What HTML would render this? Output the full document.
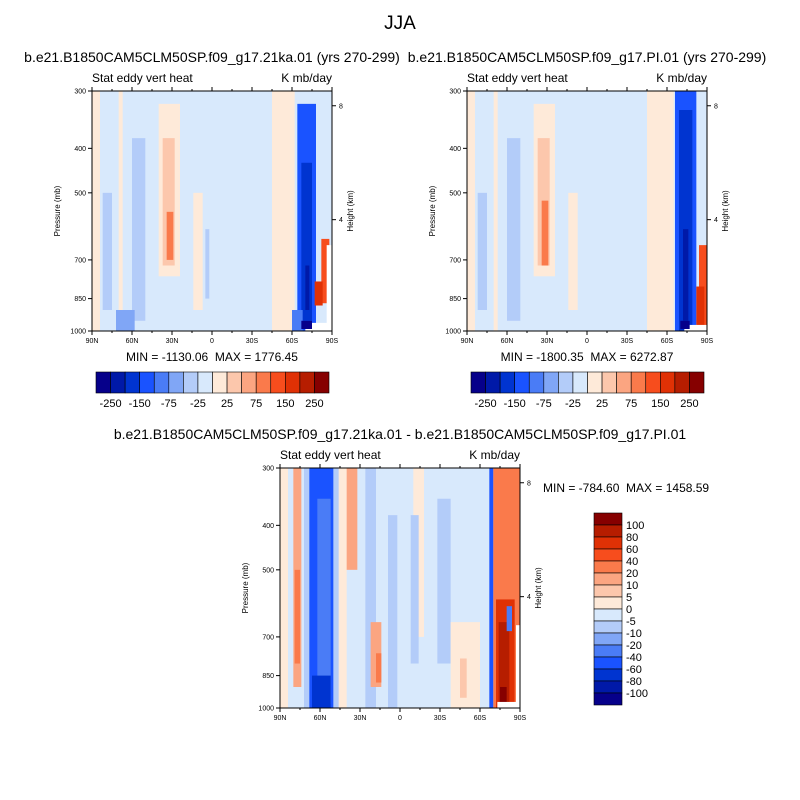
<!DOCTYPE html>
<html><head><meta charset="utf-8"><style>
html,body{margin:0;padding:0;background:#fff;}
svg{display:block;font-family:"Liberation Sans",sans-serif;}
text{white-space:pre;}
</style></head><body>
<svg id="fig" width="800" height="800" viewBox="0 0 800 800" xml:space="preserve">
<text x="400" y="29" font-size="19" text-anchor="middle">JJA</text>
</svg>
<script>
const colors=["#06008a","#0019a8","#0034d0","#1a53ff","#4a7cf6","#80a6f6","#b3ccf9","#d8e9fc","#feead9","#fcc7ac","#fba581","#fa7a4b","#f74d1d","#e03105","#b61d00","#860000"];
const topLevels=["-250","-150","-75","-25","25","75","150","250"];
const diffLevels=["100","80","60","40","20","10","5","0","-5","-10","-20","-40","-60","-80","-100"];
const pTicks=[300,400,500,700,850,1000];
const latTicks=[90,60,30,0,-30,-60,-90];
const latLabels=["90N","60N","30N","0","30S","60S","90S"];
const hTicks=[8,4];
// blobs: [latStart, latEnd, pTop, pBottom, colorIndex] (-1 = missing/white)
const panel1Blobs=[[90,84,300,1000,8],[70,67,300,1000,8],[60,50,380,950,6],[82,75,500,900,6],[40,24,320,760,8],[37,28,380,720,9],[34,29,550,700,11],[14,7,500,900,8],[5,2,600,850,6],[-45,-62,300,1000,8],[-64,-78,320,1000,3],[-67,-75,430,950,2],[-70,-73,720,900,1],[-82,-88,630,870,12],[-77,-83,780,880,13],[-60,-68,900,1000,4],[-70,-90,960,1000,-1],[-86,-90,650,1000,-1],[-67,-75,950,990,0],[72,58,900,1000,5]];
const panel2Blobs=[[90,84,300,1000,8],[70,67,300,1000,8],[60,50,380,950,6],[82,75,500,900,6],[40,24,320,760,8],[37,28,380,720,9],[34,29,520,720,11],[14,7,500,900,8],[-45,-65,300,1000,8],[-66,-82,300,1000,3],[-69,-79,330,1000,2],[-72,-76,600,950,1],[-84,-90,650,1000,12],[-82,-88,800,980,13],[-73,-90,970,1000,-1],[-70,-77,950,990,0]];
const panel3Blobs=[[90,84,300,1000,8],[80,74,300,900,10],[79,75,500,800,11],[72,45,300,1000,6],[68,50,300,1000,3],[62,52,350,980,4],[66,52,850,1000,2],[42,32,300,500,10],[46,40,300,1000,8],[26,18,300,1000,6],[22,14,650,900,10],[18,14,760,880,11],[9,2,380,1000,6],[-10,-18,300,700,8],[-8,-14,380,800,6],[-28,-38,350,800,6],[-38,-60,650,1000,8],[-45,-50,780,950,9],[-67,-70,300,1000,3],[-70,-90,300,1000,11],[-72,-86,580,1000,13],[-74,-82,650,1000,14],[-80,-84,600,680,4],[-75,-80,900,1000,15],[-73,-90,970,1000,-1],[-87,-90,660,1000,-1]];
const minmax1="MIN = -1130.06  MAX = 1776.45";
const minmax2="MIN = -1800.35  MAX = 6272.87";
const minmax3="MIN = -784.60  MAX = 1458.59";

const svg=document.getElementById('fig');
const NS="http://www.w3.org/2000/svg";
function mk(tag,attrs,parent){const e=document.createElementNS(NS,tag);for(const k in attrs)e.setAttribute(k,attrs[k]);(parent||svg).appendChild(e);return e;}
function txt(s,x,y,size,anchor,parent,name){const t=mk('text',{x:x,y:y,'font-size':size,'text-anchor':anchor||'start'},parent);t.textContent=s;


return t;}

function panel(x0,y0,blobs,bg,name){
  const W=240,H=240;
  const g=mk('g',{});
  
  
  const xs=lat=>x0+(90-lat)/180*W;
  const ys=p=>y0+H-Math.log(1000/p)/Math.log(1000/300)*H;
  mk('rect',{x:x0,y:y0,width:W,height:H,fill:colors[bg]},g);
  blobs.forEach((b,i)=>{
    const r=mk('rect',{x:xs(b[0]),y:ys(b[2]),width:xs(b[1])-xs(b[0]),height:ys(b[3])-ys(b[2]),fill:b[4]<0?'#fff':colors[b[4]]},g);
    
    
  });
  mk('rect',{x:x0,y:y0,width:W,height:H,fill:'none',stroke:'#000','stroke-width':1},g);
  pTicks.forEach(p=>{const y=ys(p);mk('line',{x1:x0-4,x2:x0,y1:y,y2:y,stroke:'#000'},g);txt(String(p),x0-6,y+2.5,7,'end',g,'pressure-tick-label');});
  latTicks.forEach((l,i)=>{const x=xs(l);mk('line',{x1:x,x2:x,y1:y0+H,y2:y0+H+4,stroke:'#000'},g);mk('line',{x1:x,x2:x,y1:y0,y2:y0-4,stroke:'#000'},g);txt(latLabels[i],x,y0+H+12,7,'middle',g,'latitude-tick-label');});
  for(let l=75;l>-90;l-=15){if(l%30===0)continue;const x=xs(l);mk('line',{x1:x,x2:x,y1:y0+H,y2:y0+H+2,stroke:'#000'},g);mk('line',{x1:x,x2:x,y1:y0,y2:y0-2,stroke:'#000'},g);}
  hTicks.forEach(h=>{const p=1013*Math.exp(-h/7);const y=ys(p);mk('line',{x1:x0+W,x2:x0+W+4,y1:y,y2:y,stroke:'#000'},g);txt(String(h),x0+W+7,y+2.5,7,'start',g,'height-tick-label');});
  const yl=txt("Pressure (mb)",0,0,8,'middle',g,'y-axis-title');yl.setAttribute('transform',`translate(${x0-32},${y0+H/2}) rotate(-90)`);
  const hl=txt("Height (km)",0,0,8,'middle',g,'right-axis-title');hl.setAttribute('transform',`translate(${x0+W+21},${y0+H/2}) rotate(-90)`);
  txt("Stat eddy vert heat",x0,y0-9,12,'start',g,'left-subtitle');
  txt("K mb/day",x0+W,y0-9,12,'end',g,'right-subtitle');
}
function hbar(x0,y0){
  const g=mk('g',{});
  
  
  const bw=233/16;
  colors.forEach((c,i)=>mk('rect',{x:x0+i*bw,y:y0,width:bw,height:21,fill:c,stroke:'#000','stroke-width':0.6},g));
  topLevels.forEach((s,i)=>txt(s,x0+(1+2*i)*bw,y0+35,11,'middle',g,'colorbar-label'));
}
function vbar(x0,y0){
  const g=mk('g',{});
  
  
  const bh=12;
  colors.slice().reverse().forEach((c,i)=>mk('rect',{x:x0,y:y0+i*bh,width:28,height:bh,fill:c,stroke:'#000','stroke-width':0.6},g));
  diffLevels.forEach((s,i)=>txt(s,x0+32,y0+(i+1)*bh+4,11,'start',g,'colorbar-label'));
}
txt("b.e21.B1850CAM5CLM50SP.f09_g17.21ka.01 (yrs 270-299)",212,62,14,'middle',svg,'panel1-title');
txt("b.e21.B1850CAM5CLM50SP.f09_g17.PI.01 (yrs 270-299)",587,62,14,'middle',svg,'panel2-title');
txt("b.e21.B1850CAM5CLM50SP.f09_g17.21ka.01 - b.e21.B1850CAM5CLM50SP.f09_g17.PI.01",400,439,14,'middle',svg,'panel3-title');
panel(92,91,panel1Blobs,7,'panel-21ka');
panel(467,91,panel2Blobs,7,'panel-pi');
panel(280,468,panel3Blobs,7,'panel-diff');
txt(minmax1,212,361,12,'middle',svg,'panel1-minmax');
txt(minmax2,587,361,12,'middle',svg,'panel2-minmax');
txt(minmax3,543,492,12,'start',svg,'panel3-minmax');
hbar(96,372);
hbar(471,372);
vbar(594,513);
</script>
</body></html>
